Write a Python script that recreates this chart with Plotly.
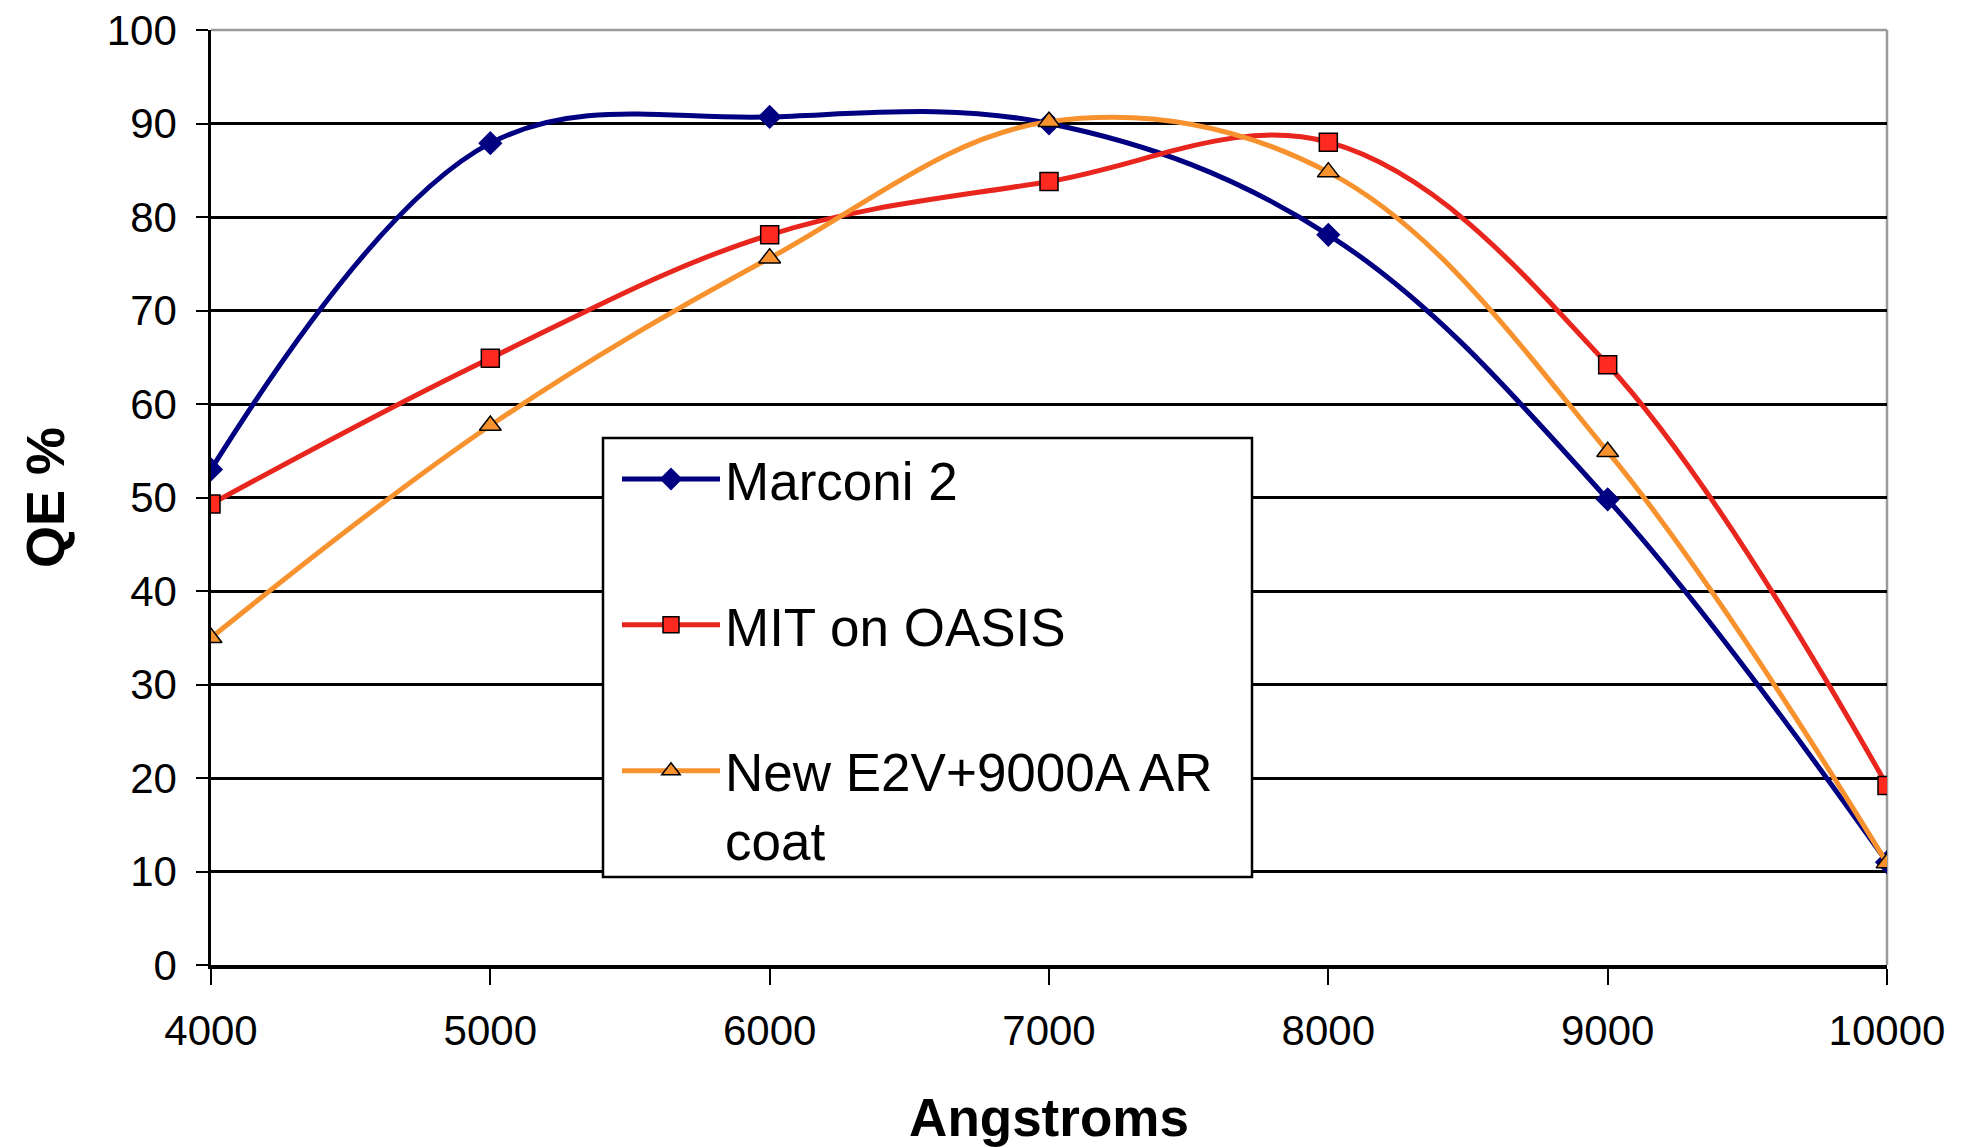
import plotly.graph_objects as go

wavelength = [4000, 5000, 6000, 7000, 8000, 9000, 10000]
marconi2 = [53.0, 87.9, 90.7, 90.0, 78.1, 49.8, 11.0]
mit_oasis = [49.3, 64.9, 78.1, 83.8, 88.0, 64.2, 19.2]
new_e2v = [35.0, 57.7, 75.6, 90.2, 84.8, 54.9, 10.9]

series_names = ["Marconi 2", "MIT on OASIS", "New E2V+9000A AR<br>coat"]
x_ticks = [4000, 5000, 6000, 7000, 8000, 9000, 10000]
y_ticks = [0, 10, 20, 30, 40, 50, 60, 70, 80, 90, 100]

FONT = "Liberation Sans, Arial, sans-serif"

L, R, T, B = 211, 1887, 30, 965
def px(xp):
    return (xp - L) / (R - L)
def py(yp):
    return (B - yp) / (B - T)

fig = go.Figure()
styles = [
    dict(line_color="#000080", symbol="diamond", fill="#000080", size=17, edge="#000080"),
    dict(line_color="#E8261E", symbol="square", fill="#FF2A1F", size=18, edge="#000000"),
    dict(line_color="#F7922E", symbol="triangle-up", fill="#F7922E", size=19, edge="#000000"),
]
for name, vals, st in zip(series_names, [marconi2, mit_oasis, new_e2v], styles):
    fig.add_trace(go.Scatter(
        x=wavelength, y=vals, name=name, mode="lines+markers",
        legendgroup=name,
        line=dict(color=st["line_color"], width=5, shape="spline", smoothing=1.05),
        marker=dict(symbol=st["symbol"], size=st["size"], color=st["fill"],
                    line=dict(color=st["edge"], width=1.5)),
    ))

fig.update_layout(
    width=1973, height=1148,
    margin=dict(l=L, r=1973 - R, t=T, b=1148 - B),
    paper_bgcolor="white", plot_bgcolor="white",
    font=dict(family=FONT, size=42, color="black"),
    showlegend=True,
    legend=dict(
        x=px(617), y=py(438), xanchor="left", yanchor="top",
        bgcolor="rgba(0,0,0,0)", borderwidth=0,
        font=dict(family=FONT, size=53, color="black"),
        tracegroupgap=74, valign="top", itemwidth=98,
    ),
    xaxis=dict(
        range=[4000, 10000], tickvals=x_ticks, ticktext=[str(v) for v in x_ticks],
        showgrid=False, zeroline=False,
        showline=True, linecolor="black", linewidth=4,
        ticks="outside", ticklen=16, tickwidth=2, tickcolor="black",
        ticklabelstandoff=10,
        title=dict(text="<b>Angstroms</b>", font=dict(family=FONT, size=53), standoff=46),
        automargin=False,
    ),
    yaxis=dict(
        range=[0, 100], tickvals=y_ticks,
        showgrid=True, gridcolor="black", gridwidth=2.5, zeroline=False,
        showline=True, linecolor="black", linewidth=2.5,
        ticks="outside", ticklen=12, tickwidth=2, tickcolor="black",
        ticklabelstandoff=11,
        title=dict(text="<b>QE %</b>", font=dict(family=FONT, size=54), standoff=25),
        automargin=False,
    ),
)

fig.add_shape(type="line", xref="paper", yref="paper", x0=0, x1=1, y0=1, y1=1,
              line=dict(color="#9a9a9a", width=2.5), layer="above")
fig.add_shape(type="line", xref="paper", yref="paper", x0=1, x1=1, y0=0, y1=1,
              line=dict(color="#9a9a9a", width=2.5), layer="below")

fig.add_shape(type="rect", xref="paper", yref="paper",
              x0=px(603), x1=px(1252), y0=py(877), y1=py(438),
              fillcolor="white", line=dict(color="black", width=2.5), layer="above")

fig.write_html("out.html")
